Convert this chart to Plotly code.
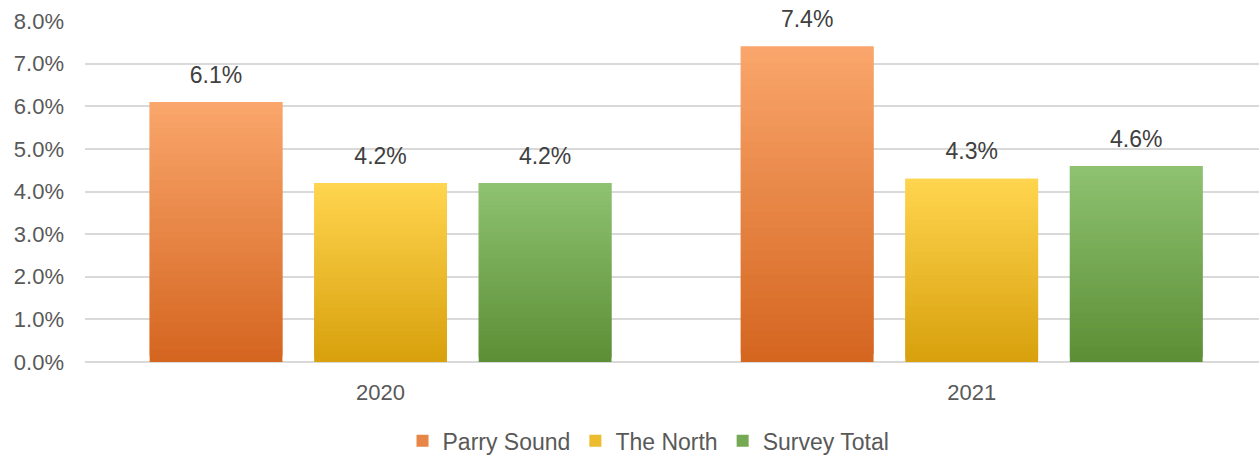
import plotly.graph_objects as go

years = ["2020", "2021"]
series_names = ["Parry Sound", "The North", "Survey Total"]
parry_sound = [6.1, 7.4]
the_north = [4.2, 4.3]
survey_total = [4.2, 4.6]
y_ticks = [0, 1, 2, 3, 4, 5, 6, 7, 8]

# bottom colour, top colour for each series' vertical gradient
gradients = {
    "Parry Sound": ("#D4651F", "#FAA66C"),
    "The North": ("#D8A00C", "#FFD54F"),
    "Survey Total": ("#5C8E35", "#8FC271"),
}

FONT = "Liberation Sans, Arial, sans-serif"

def hex_to_rgb(h):
    h = h.lstrip("#")
    return tuple(int(h[i:i + 2], 16) for i in (0, 2, 4))

def blend(c0, c1, t):
    a, b = hex_to_rgb(c0), hex_to_rgb(c1)
    return "rgb(%d,%d,%d)" % tuple(round(a[i] + (b[i] - a[i]) * t) for i in range(3))

N_SEG = 40
fig = go.Figure()

for name, values in zip(series_names, [parry_sound, the_north, survey_total]):
    c_bot, c_top = gradients[name]
    # Each bar is built from stacked bands; every band reaches one band
    # higher than its own slot so the next band (drawn on top) hides the seam.
    for k in range(N_SEG):
        t = (k + 0.5) / N_SEG
        top_frac = min(k + 2, N_SEG) / N_SEG
        fig.add_trace(go.Bar(
            x=years,
            y=[v * top_frac - v * k / N_SEG for v in values],
            base=[v * k / N_SEG for v in values],
            offsetgroup=name,
            legendgroup=name,
            name=name,
            showlegend=(k == N_SEG // 2),
            marker=dict(color=blend(c_bot, c_top, t), line=dict(width=0)),
            customdata=values,
            hovertemplate=name + " %{x}: %{customdata:.1f}%<extra></extra>",
        ))
    # value labels above each bar
    fig.add_trace(go.Scatter(
        x=years,
        y=values,
        mode="markers+text",
        offsetgroup=name,
        text=["%.1f%%" % v for v in values],
        textposition="top center",
        textfont=dict(family=FONT, size=23, color="#404040"),
        marker=dict(size=20, color="rgba(0,0,0,0)"),
        showlegend=False,
        hoverinfo="skip",
        cliponaxis=False,
    ))

fig.update_layout(
    width=1259,
    height=455,
    margin=dict(l=85, r=0, t=21, b=93),
    paper_bgcolor="white",
    plot_bgcolor="white",
    barmode="group",
    scattermode="group",
    bargap=0.165,
    bargroupgap=0.193,
    scattergap=0.165,
    font=dict(family=FONT, size=22, color="#595959"),
    showlegend=True,
    legend=dict(
        orientation="h",
        x=0.48, xanchor="center",
        yref="container", y=0.031, yanchor="middle",
        font=dict(family=FONT, size=23, color="#595959"),
        traceorder="normal",
    ),
    xaxis=dict(
        type="category",
        range=[-0.5, 1.486],
        showgrid=False,
        showline=False,
        ticks="",
        ticklabelstandoff=15,
        tickfont=dict(size=22, color="#595959"),
    ),
    yaxis=dict(
        range=[0, 8],
        tickvals=y_ticks,
        ticktext=["%.1f%%" % v for v in y_ticks],
        showgrid=True,
        gridcolor="#D9D9D9",
        gridwidth=1.5,
        zeroline=True,
        zerolinecolor="#D9D9D9",
        zerolinewidth=1.5,
        showline=False,
        ticks="",
        ticklabelstandoff=20,
        tickfont=dict(size=22, color="#595959"),
    ),
)

fig.write_html("out.html")
